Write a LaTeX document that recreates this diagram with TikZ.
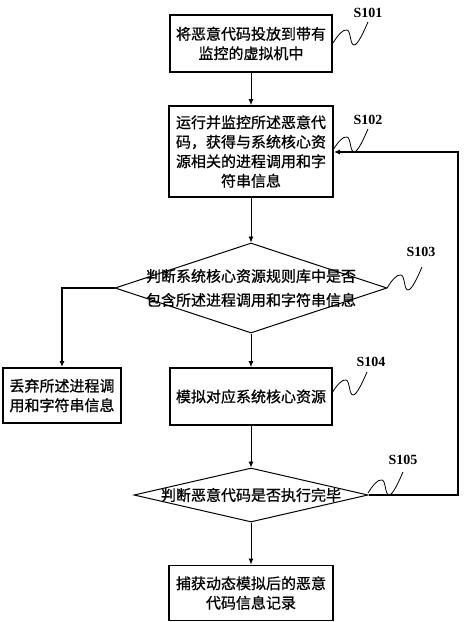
\documentclass[tikz,border=0pt]{standalone}
\usepackage{fontspec}
\setmainfont{Liberation Serif}
\newfontfamily\cjk[FakeBold=0.8]{Noto Sans CJK SC}
\usetikzlibrary{arrows.meta,shapes.geometric}
\begin{document}
\begin{tikzpicture}[x=1pt,y=-1pt,
  box/.style={draw,line width=1.8pt,rectangle,inner sep=0pt,align=center,
    font=\cjk\fontsize{15}{19.5}\selectfont},
  dia/.style={draw,line width=1pt,diamond,inner sep=0pt},
  diatext/.style={align=center,inner sep=0pt,font=\cjk\fontsize{15}{24}\selectfont},
  arr/.style={-{Latex[length=6pt,width=5pt]},line width=0.9pt},
  arrthick/.style={-{Latex[length=6pt,width=5pt]},line width=1.8pt},
  steplabel/.style={font=\bfseries\fontsize{14}{14}\selectfont,inner sep=0pt},
  squig/.pic={\draw[line width=0.8pt] (0,0) .. controls (5,-8) and (10,-14) .. (14,-13)
      .. controls (18,-12) and (17,2) .. (21,2) .. controls (25,2) and (31,-12) .. (35,-21);}
]
\useasboundingbox (0,0) rectangle (464,622);

\node[box,minimum width=162pt,minimum height=57pt] (b1) at (251,43.5)
  {将恶意代码投放到带有\\监控的虚拟机中};
\node[box,minimum width=164pt,minimum height=91pt] (b2) at (251,151.5)
  {运行并监控所述恶意代\\码，获得与系统核心资\\源相关的进程调用和字\\符串信息};
\node[diatext] (d1t) at (251,288)
  {判断系统核心资源规则库中是否\\包含所述进程调用和字符串信息};
\node[dia,minimum width=272pt,minimum height=90pt] (d1) at (251,288) {};
\node[box,minimum width=118pt,minimum height=55pt] (b3) at (62,395.5)
  {丢弃所述进程调\\用和字符串信息};
\node[box,minimum width=162pt,minimum height=57pt] (b4) at (251,396.5)
  {模拟对应系统核心资源};
\node[diatext] (d2t) at (251,495) {判断恶意代码是否执行完毕};
\node[dia,minimum width=234pt,minimum height=54pt] (d2) at (251,495) {};
\node[box,minimum width=164pt,minimum height=55pt] (b5) at (251,593)
  {捕获动态模拟后的恶意\\代码信息记录};

\draw[arr] (b1.south) -- (b2.north);
\draw[arr] (b2.south) -- (d1.north);
\draw[arrthick] (d1.west) -| (b3.north);
\draw[arr] (d1.south) -- (b4.north);
\draw[arr] (b4.south) -- (d2.north);
\draw[arr] (d2.south) -- (b5.north);
\coordinate (loop) at (458,152);
\draw[arr,line width=1.4pt] (d2.east) -| (loop) -- (b2.east |- loop);

\node[steplabel] (l1) at (368,13) {S101};
\node[steplabel] (l2) at (368,120) {S102};
\node[steplabel] (l3) at (421,252) {S103};
\node[steplabel] (l4) at (371,362) {S104};
\node[steplabel] (l5) at (403,460) {S105};
\pic at (333,43) {squig};
\pic at (333,150) {squig};
\pic at (387,288) {squig};
\pic at (332,393) {squig};
\pic at (368,493) {squig};
\end{tikzpicture}
\end{document}
